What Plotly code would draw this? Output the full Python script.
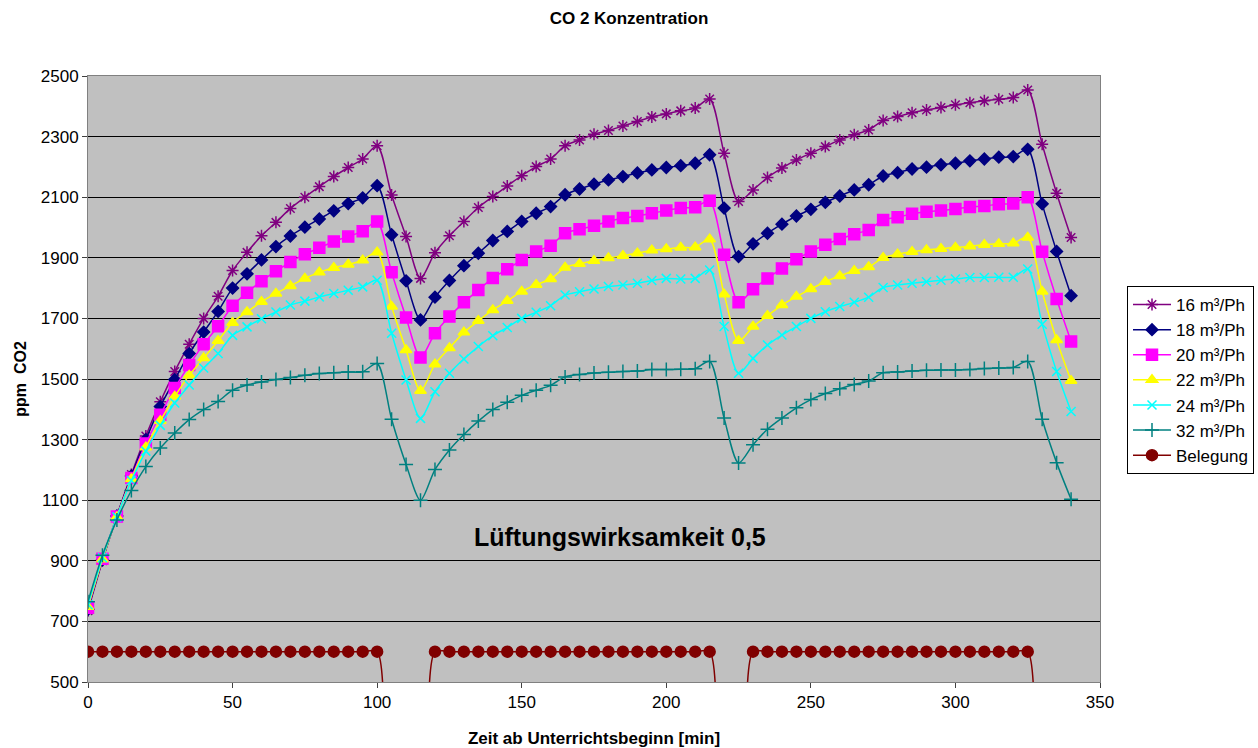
import plotly.graph_objects as go

# time axis (minutes)
zeit = list(range(0, 345, 5))

s16 = [735, 900, 1048, 1185, 1312, 1425, 1525, 1615, 1700, 1773, 1858, 1918, 1973, 2017, 2063, 2100, 2135, 2168, 2198, 2226, 2270,
       2107, 1970, 1832, 1917, 1973, 2020, 2066, 2102, 2137, 2171, 2201, 2226, 2270, 2289, 2308, 2320, 2335, 2350, 2365, 2375, 2385, 2394, 2424,
       2245, 2086, 2124, 2165, 2196, 2223, 2245, 2267, 2289, 2306, 2322, 2353, 2366, 2379, 2388, 2396, 2405, 2412, 2418, 2423, 2429, 2454, 2275, 2113, 1967]
s18 = [740, 903, 1048, 1180, 1300, 1409, 1498, 1584, 1655, 1723, 1800, 1847, 1893, 1937, 1972, 2001, 2028, 2055, 2079, 2098, 2138,
       1976, 1824, 1695, 1770, 1825, 1874, 1915, 1957, 1987, 2020, 2047, 2069, 2108, 2127, 2143, 2157, 2168, 2180, 2190, 2198, 2204, 2212, 2240,
       2064, 1904, 1946, 1981, 2011, 2038, 2060, 2083, 2104, 2124, 2141, 2170, 2181, 2193, 2199, 2207, 2212, 2220, 2226, 2232, 2234, 2258, 2078, 1921, 1775]
s20 = [745, 907, 1046, 1173, 1287, 1382, 1470, 1546, 1615, 1674, 1742, 1785, 1823, 1856, 1886, 1912, 1933, 1954, 1970, 1988, 2020,
       1852, 1703, 1571, 1651, 1706, 1753, 1794, 1833, 1862, 1893, 1921, 1940, 1981, 1994, 2006, 2020, 2031, 2038, 2047, 2056, 2064, 2067, 2088,
       1910, 1753, 1796, 1832, 1865, 1895, 1921, 1943, 1962, 1978, 1992, 2025, 2034, 2045, 2052, 2056, 2061, 2068, 2071, 2077, 2079, 2100, 1920, 1764, 1624]
s22 = [748, 905, 1045, 1170, 1275, 1362, 1442, 1512, 1569, 1626, 1686, 1721, 1755, 1782, 1807, 1832, 1852, 1867, 1878, 1892, 1918,
       1739, 1596, 1461, 1549, 1602, 1654, 1692, 1728, 1758, 1789, 1811, 1830, 1868, 1880, 1890, 1899, 1907, 1915, 1925, 1929, 1934, 1935, 1961,
       1780, 1626, 1673, 1709, 1744, 1772, 1797, 1821, 1840, 1857, 1870, 1900, 1912, 1920, 1926, 1930, 1934, 1938, 1943, 1946, 1948, 1967, 1789, 1629, 1494]
s24 = [755, 910, 1045, 1165, 1262, 1347, 1421, 1480, 1536, 1584, 1644, 1672, 1699, 1721, 1744, 1757, 1771, 1782, 1793, 1804, 1826,
       1651, 1497, 1370, 1458, 1519, 1566, 1607, 1643, 1670, 1700, 1720, 1742, 1777, 1788, 1797, 1805, 1810, 1816, 1825, 1832, 1830, 1832, 1860,
       1673, 1519, 1568, 1612, 1645, 1673, 1700, 1722, 1739, 1753, 1770, 1802, 1810, 1816, 1821, 1826, 1830, 1835, 1835, 1836, 1836, 1863, 1681, 1525, 1393]
s32 = [765, 918, 1035, 1132, 1211, 1272, 1322, 1366, 1399, 1426, 1463, 1480, 1490, 1498, 1505, 1512, 1518, 1521, 1523, 1524, 1551,
       1367, 1218, 1100, 1201, 1266, 1317, 1361, 1399, 1423, 1446, 1463, 1479, 1507, 1515, 1520, 1522, 1525, 1526, 1531, 1531, 1532, 1534, 1558,
       1371, 1223, 1283, 1334, 1371, 1405, 1432, 1452, 1468, 1482, 1493, 1521, 1523, 1526, 1529, 1530, 1530, 1531, 1535, 1536, 1538, 1558, 1367, 1224, 1103]
belegung = [600] * 21 + [0] * 3 + [600] * 20 + [0] * 2 + [600] * 20 + [0] * 3

series_names = ["16 m³/Ph", "18 m³/Ph", "20 m³/Ph", "22 m³/Ph", "24 m³/Ph", "32 m³/Ph", "Belegung"]
series_data = [s16, s18, s20, s22, s24, s32, belegung]
colors = ["#800080", "#000080", "#FF00FF", "#FFFF00", "#00FFFF", "#008080", "#800000"]
symbols = ["asterisk-open", "diamond", "square", "triangle-up", "x-thin-open", "cross-thin-open", "circle"]
sizes = [10, 9, 11, 10, 9, 10, 11]

FONT = "Liberation Sans, Arial, sans-serif"

fig = go.Figure()
for name, ys, c, sym, sz in zip(series_names, series_data, colors, symbols, sizes):
    fig.add_trace(go.Scatter(
        x=zeit, y=ys, name=name, mode="lines+markers",
        line=dict(color=c, width=1.5, shape="spline", smoothing=0.8),
        marker=dict(symbol=sym, size=sz, color=c, line=dict(color=c, width=1.5)),
    ))

fig.add_annotation(x=184, y=980, text="<b>Lüftungswirksamkeit 0,5</b>", showarrow=False,
                   font=dict(family=FONT, size=25, color="black"))

fig.update_layout(
    width=1258, height=748,
    paper_bgcolor="white", plot_bgcolor="#C0C0C0",
    margin=dict(l=88, r=158, t=76, b=66, autoexpand=False),
    title=dict(text="<b>CO 2 Konzentration</b>", x=0.5, xanchor="center", y=0.976, yanchor="middle",
               font=dict(family=FONT, size=17, color="black")),
    font=dict(family=FONT, size=17, color="black"),
    legend=dict(xref="container", yref="container", x=1127 / 1258, y=1 - 286 / 748,
                xanchor="left", yanchor="top", bgcolor="white",
                bordercolor="black", borderwidth=1, font=dict(family=FONT, size=17),
                tracegroupgap=0, itemwidth=38),
    showlegend=True,
)
fig.update_xaxes(range=[0, 350], dtick=50, tick0=0, showgrid=False, zeroline=False,
                 showline=True, linecolor="#808080", linewidth=1, mirror=True,
                 ticks="outside", ticklen=5, tickcolor="#404040", automargin=False,
                 title=dict(text="<b>Zeit ab Unterrichtsbeginn [min]</b>", font=dict(size=17), standoff=22),
                 tickfont=dict(size=17))
fig.update_yaxes(range=[500, 2500], dtick=200, tick0=500, showgrid=True, gridcolor="#000000", gridwidth=1,
                 zeroline=False, showline=True, linecolor="#808080", linewidth=1, mirror=True,
                 ticks="outside", ticklen=5, tickcolor="#404040", automargin=False,
                 title=dict(text="<b>ppm  CO2</b>", font=dict(size=16), standoff=10),
                 tickfont=dict(size=17))

fig.write_html("out.html")
